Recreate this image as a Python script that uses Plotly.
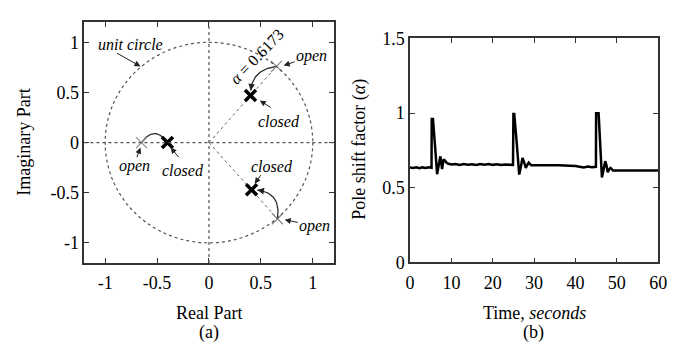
import plotly.graph_objects as go
import numpy as np

# ---------------- data ----------------
# (a) pole positions
open_re = [0.65, 0.66, -0.65]
open_im = [0.76, -0.76, 0.0]
closed_re = [0.40, 0.41, -0.40]
closed_im = [0.47, -0.47, 0.0]
alpha_label = "<i>α</i> = 0.6173"
pole_ticks = [-1, -0.5, 0, 0.5, 1]
pole_ticktext = ["-1", "-0.5", "0", "0.5", "1"]

# (b) pole shift factor time series
time_s = [0, 0.8, 1.5, 2.3, 3.0, 3.8, 4.5, 5.2, 5.25, 5.55, 6.1, 6.55, 7.0, 7.35, 7.75,
          8.1, 8.4, 8.9, 9.3, 10, 11, 12, 13, 14, 15, 16, 17, 18, 19, 20, 21, 22, 23, 24.9,
          25.0, 25.2, 25.8, 26.4, 26.8, 27.2, 27.6, 28.0, 28.4, 28.7, 29.3, 30, 33, 36, 39,
          40, 41, 42, 43, 44, 44.95, 45.0, 45.6, 46.0, 46.4, 46.8, 47.2, 47.5, 47.8, 48.2,
          48.5, 49.1, 50, 55, 60]
alpha_v = [0.635, 0.632, 0.636, 0.630, 0.636, 0.632, 0.637, 0.634, 0.960, 0.960, 0.760, 0.590,
           0.660, 0.710, 0.625, 0.690, 0.683, 0.665, 0.660, 0.655, 0.658, 0.653, 0.659, 0.654,
           0.657, 0.652, 0.658, 0.654, 0.659, 0.653, 0.657, 0.652, 0.656, 0.652,
           0.994, 0.994, 0.800, 0.588, 0.640, 0.699, 0.670, 0.632, 0.655, 0.668, 0.650, 0.651,
           0.651, 0.651, 0.650, 0.645, 0.641, 0.636, 0.642, 0.637, 0.640, 0.999, 0.999, 0.800,
           0.569, 0.620, 0.678, 0.650, 0.604, 0.625, 0.632, 0.615, 0.615, 0.615, 0.615]

# ---------------- figure ----------------
FONT = "Liberation Serif"
AX = "#333333"
DOT = "#555555"

fig = go.Figure()

# radial dotted lines origin -> open poles (complex pair)
for i in range(2):
    fig.add_trace(go.Scatter(x=[0, open_re[i]], y=[0, open_im[i]], mode="lines",
                             line=dict(color="#666", width=1, dash="dot"),
                             xaxis="x", yaxis="y", showlegend=False, hoverinfo="skip"))

# curved arrows open -> closed (quadratic bezier bulging sideways)
bulge = [0.085, 0.11, 0.09]
s = np.linspace(0, 1, 40)
arrow_tails = []
for i in range(3):
    p0 = np.array([open_re[i], open_im[i]])
    p1 = np.array([closed_re[i], closed_im[i]])
    mid = (p0 + p1) / 2
    d = p1 - p0
    n = np.array([d[1], -d[0]]) / np.linalg.norm(d)
    if i == 2:
        n = np.array([0.0, 1.0])
    c = mid + 2 * bulge[i] * n
    pts = np.outer((1 - s) ** 2, p0) + np.outer(2 * (1 - s) * s, c) + np.outer(s ** 2, p1)
    end = 0.90 if i < 2 else 0.95
    keep = s <= end
    fig.add_trace(go.Scatter(x=pts[keep, 0], y=pts[keep, 1], mode="lines",
                             line=dict(color="#222", width=1.2),
                             xaxis="x", yaxis="y", showlegend=False, hoverinfo="skip"))
    k = np.where(keep)[0][-1]
    arrow_tails.append((pts[k - 3], pts[k]))

fig.add_trace(go.Scatter(x=open_re, y=open_im, mode="markers",
                         marker=dict(symbol="x-thin", size=11, line=dict(width=1.2, color="#888")),
                         xaxis="x", yaxis="y", showlegend=False))
fig.add_trace(go.Scatter(x=closed_re, y=closed_im, mode="markers",
                         marker=dict(symbol="x-thin", size=11, line=dict(width=3.5, color="black")),
                         xaxis="x", yaxis="y", showlegend=False))

# time series
fig.add_trace(go.Scatter(x=time_s, y=alpha_v, mode="lines",
                         line=dict(color="black", width=2.5),
                         xaxis="x2", yaxis="y2", showlegend=False))

shapes = [
    dict(type="circle", xref="x", yref="y", x0=-1, y0=-1, x1=1, y1=1,
         line=dict(color=DOT, width=1.2, dash="dot")),
    dict(type="line", xref="x", yref="y", x0=-1.2, x1=1.2, y0=0, y1=0,
         line=dict(color=DOT, width=1.2, dash="dot")),
    dict(type="line", xref="x", yref="y", x0=0, x1=0, y0=-1.2, y1=1.2,
         line=dict(color=DOT, width=1.2, dash="dot")),
]

ann = []
tfont = dict(family=FONT, size=16, color="black")


def label(x, y, text, angle=0):
    ann.append(dict(x=x, y=y, xref="x", yref="y", text=text, showarrow=False,
                    font=tfont, textangle=angle, xanchor="center", yanchor="middle"))


def arrow(x0, y0, x1, y1, head=2):
    ann.append(dict(x=x1, y=y1, ax=x0, ay=y0, xref="x", yref="y", axref="x", ayref="y",
                    text="", showarrow=True, arrowhead=head, arrowsize=1.2, arrowwidth=1,
                    arrowcolor="#222"))


label(-0.76, 0.98, "<i>unit circle</i>")
arrow(-0.90, 0.90, -0.66, 0.76)
label(0.99, 0.86, "<i>open</i>")
arrow(0.84, 0.81, 0.72, 0.77)
label(0.67, 0.21, "<i>closed</i>")
arrow(0.61, 0.34, 0.49, 0.42)
label(0.46, 0.86, alpha_label, angle=-46)
label(-0.72, -0.235, "<i>open</i>")
arrow(-0.70, -0.16, -0.66, -0.05)
label(-0.25, -0.275, "<i>closed</i>")
arrow(-0.28, -0.16, -0.37, -0.05)
label(0.61, -0.235, "<i>closed</i>")
arrow(0.51, -0.31, 0.44, -0.41)
label(1.02, -0.83, "<i>open</i>")
arrow(0.87, -0.80, 0.73, -0.77)

for (a, b) in arrow_tails:
    ann.append(dict(x=b[0], y=b[1], ax=a[0], ay=a[1], xref="x", yref="y", axref="x", ayref="y",
                    text="", showarrow=True, arrowhead=2, arrowsize=1.1, arrowwidth=1.2,
                    arrowcolor="#222"))

big = dict(family=FONT, size=18, color="black")


def ptext(xp, yp, text, angle=0):
    ann.append(dict(x=xp / 675, y=1 - yp / 355, xref="paper", yref="paper", text=text,
                    showarrow=False, font=big, textangle=angle,
                    xanchor="center", yanchor="middle"))


ptext(209, 321, "Real Part")
ptext(20, 140, "Imaginary Part", -90)
ptext(209, 342, "(a)")
ptext(541, 321, "Time, <i>seconds</i>")
ptext(363, 148, "Pole shift factor (<i>α</i>)", -90)
ptext(540, 342, "(b)")

axcommon = dict(showline=True, linecolor=AX, linewidth=1.5, mirror="allticks", ticks="inside",
                ticklen=5, tickwidth=1, tickcolor=AX, showgrid=False, zeroline=False,
                ticklabeloverflow="allow",
                tickfont=dict(family=FONT, size=18, color="black"))

fig.update_layout(
    width=675, height=355, margin=dict(l=0, r=0, t=0, b=0),
    paper_bgcolor="white", plot_bgcolor="white",
    xaxis=dict(domain=[82 / 675, 336 / 675], range=[-1.2, 1.2], tickvals=pole_ticks,
               ticktext=pole_ticktext, anchor="y", ticklabelstandoff=3, **axcommon),
    yaxis=dict(domain=[1 - 268 / 355, 1 - 13 / 355], range=[-1.2, 1.2], tickvals=pole_ticks,
               ticktext=pole_ticktext, anchor="x", **axcommon),
    xaxis2=dict(domain=[414 / 675, 667 / 675], range=[0, 60], tickvals=[0, 10, 20, 30, 40, 50, 60],
                anchor="y2", ticklabelstandoff=3, **axcommon),
    yaxis2=dict(domain=[1 - 267.5 / 355, 1 - 30 / 355], range=[0, 1.5], tickvals=[0, 0.5, 1, 1.5],
                anchor="x2", **axcommon),
    shapes=shapes, annotations=ann, showlegend=False,
)

fig.write_html("out.html")
